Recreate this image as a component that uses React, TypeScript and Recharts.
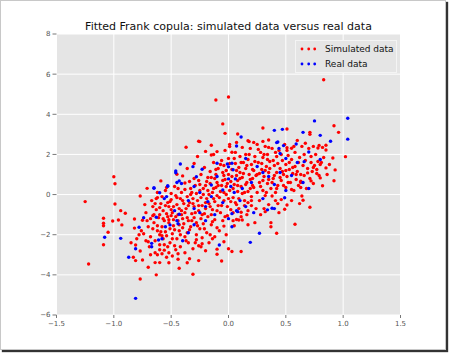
import React from "react";
import { ScatterChart, Scatter, XAxis, YAxis, CartesianGrid } from "recharts";

// Frank copula fit — simulated vs real points
const TITLE = "Fitted Frank copula: simulated data versus real data";
const X_TICKS = [-1.5, -1.0, -0.5, 0.0, 0.5, 1.0, 1.5];
const Y_TICKS = [-6, -4, -2, 0, 2, 4, 6, 8];

const SIMULATED: [number, number][] = [
  // outliers / tails
  [-1.25, -0.35], [-0.99, -0.47], [-0.94, -0.8], [-1.09, -1.18], [-1.09, -1.43], [-1.09, -1.55], [-1.01, -1.32],
  [-1.05, -1.88], [-1.09, -2.5], [-1.22, -3.46], [-0.77, -4.21], [-0.63, -4.0], [-0.83, -3.12], [-0.81, -3.29],
  [-0.75, -3.26], [-0.7, -3.62], [-0.64, -3.39], [-0.6, -3.39], [-0.54, -3.12], [-0.43, -3.67], [-0.44, -3.22],
  [-0.49, -3.06], [-0.77, -2.81], [-0.81, -2.51], [-0.85, -2.4], [-0.93, -1.51], [-0.96, -1.27], [-0.9, -0.93],
  [-0.82, -1.22], [-0.75, -1.28], [-0.82, -1.67], [-0.6, -2.5], [-0.56, -2.77],
  [-1.0, 0.89], [-0.99, 0.54], [-0.37, 2.36], [-0.45, 1.01], [-0.4, 0.93], [-0.38, 0.58], [-0.59, 0.68],
  [-0.54, 0.35], [-0.71, 0.31], [-0.77, -0.07], [-0.62, -0.15],
  [0.0, 4.86], [-0.11, 4.71], [-0.05, 3.52], [-0.03, 3.05], [-0.25, 2.64], [0.08, 3.02], [0.3, 3.32],
  [0.51, 3.27], [-0.15, 2.46], [0.18, 2.64], [0.35, 2.72],
  [0.83, 5.72], [0.71, 3.1], [0.71, 3.0], [0.92, 3.43], [0.96, 3.1], [0.67, 2.56], [0.85, 2.46], [0.78, 2.32],
  [0.85, 2.22], [0.66, 2.0], [0.91, 1.82], [1.02, 1.89], [0.72, 1.6], [0.75, 1.45], [0.78, 1.65], [0.8, 1.5],
  [0.74, 1.35], [0.85, 1.33], [0.93, 1.23], [0.69, 1.08], [0.77, 1.05], [0.8, 0.83], [0.63, 0.66], [0.72, 0.68],
  [0.92, 0.69], [0.82, 0.44], [0.63, 0.35], [0.64, -0.07], [0.65, -0.28], [0.71, -0.63],
  [-0.26, -3.29], [-0.06, -3.31], [-0.1, -2.97], [-0.1, -2.72], [-0.2, -2.8], [-0.24, -2.6], [-0.23, -2.45],
  [-0.29, -2.4], [0.03, -2.84], [0.11, -2.84], [0.0, -2.7], [-0.04, -2.35], [-0.17, -2.4], [-0.28, -2.0],
  [-0.16, -2.0], [-0.12, -2.1], [-0.1, -1.65], [-0.04, -1.57], [0.42, -1.93], [0.58, -1.48], [0.37, -1.4],
  [0.37, -1.6], [0.23, -1.4], [0.17, -1.5], [0.12, -1.27], [0.09, -1.27], [0.07, -1.24], [0.04, -1.3],
  [0.49, -0.73], [0.51, -0.52], [0.31, -0.7], [0.32, -0.85], [0.55, -0.3], [0.38, -0.07], [0.41, -0.3],
  [0.43, -0.45], [0.14, -0.55], [0.17, -0.8], [0.11, -0.88], [0.2, -0.3], [-0.31, -3.97],
  [0.17, 2.68], [0.07, 2.6], [0.25, 2.5], [0.3, 2.65], [0.35, 2.35], [0.55, 2.31], [0.51, 2.33], [0.74, 2.4],
  [0.79, 2.45], [0.82, 2.35], [-0.2, 2.15], [-0.1, 2.14], [-0.15, 1.97], [0.03, 2.11], [0.01, 2.39], [-0.26, 2.66],
  [-0.72, -2.3], [-0.78, -2.0], [-0.8, -2.2], [-0.76, -1.8], [-0.68, -3.0], [-0.62, -3.0], [-0.58, -2.95],
  [-0.47, -2.55], [-0.52, -3.4], [-0.38, -2.9], [-0.36, -3.4],
  // dense core
  [-0.7, -1.6], [-0.72, -0.9], [-0.68, -2.1], [-0.71, -1.3], [-0.69, -2.6], [-0.73, -0.5], [-0.66, -1.05],
  [-0.74, -1.95], [-0.67, -0.3],
  [-0.65, -1.4], [-0.63, -0.75], [-0.64, -2.3], [-0.62, -1.8], [-0.66, -0.6], [-0.61, -1.15], [-0.64, -2.9],
  [-0.63, -0.2], [-0.62, 0.1],
  [-0.6, -1.0], [-0.58, -1.6], [-0.59, -0.45], [-0.57, -2.2], [-0.6, -2.75], [-0.58, -0.1], [-0.56, -1.3],
  [-0.59, -1.85], [-0.57, -0.8], [-0.55, 0.2], [-0.56, -2.5],
  [-0.53, -1.1], [-0.52, -0.6], [-0.51, -1.7], [-0.54, -2.05], [-0.5, -0.25], [-0.52, -1.4], [-0.49, -0.9],
  [-0.51, -2.4], [-0.5, 0.05], [-0.53, -0.4], [-0.48, -1.25], [-0.49, -1.95], [-0.52, -2.9], [-0.47, 0.4],
  [-0.5, -0.75], [-0.48, -1.55], [-0.46, -0.05],
  [-0.45, -0.5], [-0.44, -1.0], [-0.43, -1.5], [-0.45, -2.2], [-0.42, -0.2], [-0.44, 0.3], [-0.41, -0.8],
  [-0.43, -1.8], [-0.42, -2.6], [-0.4, -1.2], [-0.41, 0.1], [-0.39, -0.45], [-0.4, -1.65], [-0.44, -2.95],
  [-0.38, -2.1],
  [-0.37, -0.7], [-0.36, -0.1], [-0.35, -1.3], [-0.34, -0.4], [-0.36, -1.9], [-0.33, 0.3], [-0.35, -2.4],
  [-0.32, -0.95], [-0.34, 0.65], [-0.33, -1.6], [-0.31, -0.2], [-0.36, 1.3], [-0.3, -1.15], [-0.32, 0.1],
  [-0.31, -2.7], [-0.3, -0.6], [-0.29, 0.45], [-0.34, -3.2], [-0.28, -1.4], [-0.3, 1.55],
  [-0.27, -0.3], [-0.26, -0.8], [-0.25, 0.2], [-0.24, -1.2], [-0.26, 0.7], [-0.23, -0.55], [-0.25, -1.7],
  [-0.22, 0.0], [-0.24, 1.0], [-0.21, -0.95], [-0.23, -2.15], [-0.2, 0.45], [-0.22, -1.45], [-0.21, 1.35],
  [-0.19, -0.2], [-0.2, -0.7], [-0.18, 0.85], [-0.27, 1.9], [-0.19, -1.9], [-0.18, 0.2], [-0.26, -2.55],
  [-0.17, -0.45], [-0.16, 0.55], [-0.15, -1.0], [-0.14, 0.1], [-0.16, 1.15], [-0.13, -0.2], [-0.15, -1.5],
  [-0.12, 0.8], [-0.14, -0.75], [-0.11, 0.35], [-0.13, 1.6], [-0.12, -1.25], [-0.1, -0.05], [-0.11, 1.0],
  [-0.09, -0.55], [-0.13, 2.0], [-0.1, 0.6], [-0.08, -1.8], [-0.09, 1.3], [-0.14, -2.2], [-0.07, 0.15],
  [-0.07, -0.9], [-0.06, 0.45], [-0.05, 1.1], [-0.04, -0.3], [-0.06, 1.7], [-0.03, 0.75], [-0.05, -1.3],
  [-0.02, 0.0], [-0.04, 1.45], [-0.01, -0.6], [-0.03, 2.2], [-0.02, 0.4], [0.0, 1.0], [-0.01, -1.05],
  [0.01, 0.2], [-0.04, 0.95], [0.0, 1.8], [0.02, -0.35], [0.01, 2.5], [-0.02, -2.0], [0.02, 0.65],
  [0.03, 1.25], [0.04, -0.15], [0.05, 0.5], [0.06, 1.55], [0.04, -0.9], [0.07, 0.95], [0.06, 2.1], [0.08, 0.15],
  [0.07, -0.5], [0.09, 1.35], [0.08, 0.7], [0.1, 1.9], [0.09, -0.2], [0.11, 0.4], [0.1, 1.1], [0.12, 2.35],
  [0.11, -1.1], [0.12, 0.85], [0.13, 1.6], [0.05, -1.55],
  [0.14, 0.1], [0.15, 1.3], [0.16, 0.6], [0.15, 2.0], [0.17, -0.4], [0.18, 1.0], [0.17, 1.75], [0.19, 0.3],
  [0.2, 1.5], [0.19, 2.3], [0.21, 0.8], [0.2, -0.1], [0.22, 1.2], [0.23, 1.9], [0.21, 0.45], [0.24, -0.7],
  [0.22, 2.6], [0.16, -1.0], [0.25, 1.0],
  [0.26, 1.6], [0.27, 0.6], [0.28, 2.1], [0.27, -0.3], [0.29, 1.25], [0.3, 0.2], [0.3, 1.85], [0.31, 0.9],
  [0.32, 2.4], [0.33, 1.4], [0.32, -0.05], [0.34, 0.55], [0.35, 1.1], [0.34, 2.0], [0.36, 1.65], [0.35, -0.5],
  [0.37, 0.3], [0.28, -1.0], [0.38, 2.3],
  [0.39, 0.8], [0.4, 1.45], [0.41, 0.1], [0.42, 1.9], [0.42, 1.1], [0.43, 0.45], [0.44, 2.2], [0.45, 1.3],
  [0.46, 0.7], [0.47, 1.7], [0.46, -0.25], [0.48, 1.0], [0.49, 2.5], [0.5, 0.35], [0.5, 1.5], [0.51, 0.9],
  [0.52, 1.95], [0.44, -0.9], [0.53, 1.25],
  [0.54, 0.6], [0.55, 1.75], [0.56, 1.05], [0.57, 0.2], [0.58, 2.1], [0.58, 1.4], [0.59, 0.75], [0.6, 2.7],
  [0.6, 1.15], [0.61, 0.45], [0.62, 1.85], [0.63, 1.0], [0.64, 2.4], [0.62, -0.45], [0.65, 1.45],
  [0.66, 0.95], [0.67, 1.7], [0.68, 0.3], [0.69, 1.3], [0.7, 2.3], [0.71, 0.8], [0.72, 1.9], [0.73, 1.15],
  [0.74, 0.55], [0.76, 2.0], [0.77, 1.25], [0.79, 0.95], [0.81, 1.6], [0.83, 1.85], [0.86, 1.0], [0.88, 1.5],
  // second pass over the core
  [-0.62, -1.55], [-0.6, -0.65], [-0.58, -2.05], [-0.57, -1.2], [-0.55, -0.55], [-0.55, -1.85], [-0.54, -0.95],
  [-0.53, -2.6], [-0.52, -1.25], [-0.51, -0.35], [-0.5, -1.05], [-0.49, -2.2], [-0.48, -0.6], [-0.47, -1.75],
  [-0.46, -1.1], [-0.46, -2.75], [-0.45, -0.15], [-0.44, -1.3], [-0.43, -0.7], [-0.42, -2.0], [-0.41, -1.0],
  [-0.4, -0.3], [-0.39, -1.45], [-0.38, 0.25], [-0.38, -0.9], [-0.37, -2.3], [-0.36, -1.15], [-0.35, -0.55],
  [-0.34, -1.75], [-0.33, 0.0], [-0.32, -1.3], [-0.31, -0.45], [-0.3, 0.8], [-0.29, -0.9], [-0.28, -2.25],
  [-0.28, 0.05], [-0.27, -1.55], [-0.26, -0.55], [-0.25, 0.5], [-0.24, -0.15], [-0.23, -1.0], [-0.22, 0.3],
  [-0.21, -1.7], [-0.2, -0.4], [-0.19, 0.65], [-0.18, -1.1], [-0.17, 0.0], [-0.16, -0.6], [-0.15, 0.85],
  [-0.14, -1.35], [-0.13, 0.3], [-0.12, -0.35], [-0.11, 1.25], [-0.1, -0.8], [-0.09, 0.45], [-0.08, -0.15],
  [-0.07, 1.5], [-0.06, -0.55], [-0.05, 0.7], [-0.04, 0.1], [-0.03, -1.1], [-0.02, 1.2], [-0.01, 0.55],
  [0.0, -0.2], [0.01, 1.55], [0.02, -0.75], [0.03, 0.9], [0.04, 0.3], [0.05, 1.8], [0.06, -0.4], [0.07, 1.2],
  [0.08, 0.45], [0.09, -0.7], [0.1, 0.8], [0.11, 1.6], [0.12, 0.05], [0.13, 1.05], [0.14, -0.3], [0.15, 0.5],
  [0.16, 1.45], [0.17, 0.15], [0.18, 2.0], [0.19, 0.75], [0.2, -0.55], [0.21, 1.25], [0.22, 0.35], [0.23, 1.65],
  [0.24, 0.95], [0.25, 0.1], [0.26, 2.25], [0.27, 1.05], [0.28, 0.4], [0.29, 1.55], [0.3, 0.7], [0.31, 2.0],
  [0.32, 1.2], [0.33, 0.1], [0.34, 1.75], [0.35, 0.75], [0.36, 1.3], [0.38, 0.6], [0.39, 1.7], [0.4, 0.95],
  [0.41, 2.1], [0.42, 0.3], [0.43, 1.55], [0.45, 0.85], [0.46, 2.0], [0.47, 1.15], [0.48, 0.45], [0.5, 1.2],
  [0.51, 2.2], [0.52, 0.6], [0.53, 1.6], [0.55, 0.25], [0.56, 1.35], [0.57, 2.4], [0.59, 1.0], [0.61, 1.6],
  [0.63, 0.6], [-0.66, -1.7], [-0.68, -1.2], [-0.7, -2.35], [-0.64, -0.45], [-0.6, -2.0], [-0.65, -1.0],
];

const REAL: [number, number][] = [
  [-0.42, 1.52], [-0.46, 1.18], [-0.43, 0.68], [-0.53, 0.41], [-0.65, 0.34], [-0.6, 0.09], [-0.56, -0.2],
  [0.11, 2.87], [0.4, 3.2], [0.47, 3.25], [0.43, 2.62], [0.59, 2.52], [1.04, 3.8], [0.75, 3.67], [0.65, 3.1],
  [0.8, 2.95], [0.89, 2.66], [1.04, 2.76], [0.7, 2.12], [0.66, 1.64],
  [-1.08, -2.13], [-0.94, -2.18], [-0.81, -5.17], [-0.87, -3.12], [-0.81, -2.7], [-0.78, -1.63], [-0.67, -2.6],
  [0.19, -2.38], [-0.08, -2.51], [0.27, -1.93], [0.03, -1.6], [0.38, -0.68], [0.34, -0.76], [0.4, -0.7],
  [0.49, -0.16], [0.08, -0.85], [0.07, -0.8], [0.03, -0.95],
  [0.07, 2.42], [-0.31, 1.39], [-0.1, 1.56], [-0.01, 1.52], [0.0, 1.38], [0.04, 1.24], [-0.23, 1.26],
  [-0.46, 1.09], [-0.28, 0.89], [0.0, 0.78], [0.06, 0.78], [-0.65, 0.31], [-0.53, 0.44], [-0.45, 0.6],
  [-0.41, 0.55], [-0.15, 0.48], [-0.05, 0.23], [-0.74, -1.15], [-0.63, -1.13], [-0.54, -0.1], [-0.47, -0.8],
  [-0.43, -0.98], [0.42, 2.59], [0.48, 2.44], [0.44, 2.3], [0.45, 2.05], [0.03, 1.56],
  [-0.35, -0.3], [-0.2, -0.6], [-0.3, -1.5], [-0.12, -1.0], [-0.25, 0.1], [0.12, 0.3], [0.2, 0.6], [0.25, 1.4],
  [0.3, -0.2], [0.15, 1.8], [0.35, 0.9], [0.5, 0.2], [0.55, 0.95], [0.6, 1.6], [0.5, 1.8], [-0.05, -0.4],
  [0.1, -0.3], [-0.55, -1.6], [-0.4, -2.3], [-0.2, -1.3], [0.0, -1.2], [-0.3, 0.4], [-0.1, 0.9], [0.22, -0.9],
  [0.4, 0.5], [-0.58, -2.2], [-0.35, -1.9], [-0.15, -0.1], [0.3, 1.1], [0.65, 0.6], [-0.45, -1.3], [0.05, 0.1],
  [0.15, -0.6], [-0.25, -0.9], [0.45, 1.1], [0.8, 1.75], [0.7, 0.3], [-0.51, -1.51], [-0.67, -2.43],
  [-0.61, -2.26], [-0.44, -1.45], [-0.3, -0.7], [-0.18, -0.35], [0.02, 0.4],
];

const RED = "#ff0000";
const BLUE = "#0000ff";
const FONT = "'DejaVu Sans', sans-serif";

const toRows = (pts: [number, number][]) => pts.map(([x, y]) => ({ x, y }));
const fmtX = (v: number) => v.toFixed(1).replace("-", "\u2212");
const fmtY = (v: number) => String(v).replace("-", "\u2212");

function Dot(color: string) {
  return (props: any) => <circle cx={props.cx} cy={props.cy} r={1.7} fill={color} />;
}

function LegendBox() {
  const row = (color: string, label: string, top: number) => (
    <div style={{ position: "absolute", left: 0, top, height: 14, width: "100%" }}>
      <svg width={26} height={14} style={{ position: "absolute", left: 0, top: 0 }}>
        {[6, 12.7, 18.7].map((cx) => (
          <circle key={cx} cx={cx} cy={7} r={1.4} fill={color} />
        ))}
      </svg>
      <span style={{ position: "absolute", left: 29, top: 0, lineHeight: "14px", whiteSpace: "nowrap" }}>{label}</span>
    </div>
  );
  return (
    <div
      style={{
        position: "absolute",
        left: 295,
        top: 40,
        width: 100,
        height: 31,
        background: "#e5e5e5",
        border: "1px solid #f4f4f4",
        fontFamily: FONT,
        fontSize: 9,
        color: "#111",
      }}
    >
      {row(RED, "Simulated data", 0.5)}
      {row(BLUE, "Real data", 16)}
    </div>
  );
}

export default function App() {
  return (
    <div style={{ position: "absolute", left: 0, top: 0, width: 449, height: 354, background: "#fff" }}>
      {/* marco del screenshot con sombra */}
      <div
        style={{
          position: "absolute",
          left: 0,
          top: 0,
          width: 444,
          height: 348,
          border: "1px solid #c8c8c8",
          boxShadow: "2px 2px 1px #333",
        }}
      />
      <div
        style={{
          position: "absolute",
          left: 0,
          width: 457,
          top: 20,
          textAlign: "center",
          fontFamily: FONT,
          fontSize: 11,
          lineHeight: "13px",
          color: "#111",
        }}
      >
        {TITLE}
      </div>
      <div style={{ position: "absolute", left: 0, top: 0 }}>
        <ScatterChart width={449} height={354} margin={{ top: 34, right: 48.5, bottom: 9, left: 6.5 }}>
          <CartesianGrid fill="#e5e5e5" stroke="#ffffff" strokeWidth={1} />
          <XAxis
            type="number"
            dataKey="x"
            domain={[-1.5, 1.5]}
            ticks={X_TICKS}
            tickFormatter={fmtX}
            axisLine={false}
            tickSize={3}
            tickMargin={3}
            height={30}
            tick={{ fontSize: 7, fill: "#555", fontFamily: FONT }}
            tickLine={{ stroke: "#777" }}
            allowDataOverflow
          />
          <YAxis
            type="number"
            dataKey="y"
            domain={[-6, 8]}
            ticks={Y_TICKS}
            tickFormatter={fmtY}
            axisLine={false}
            tickSize={4}
            tickMargin={2}
            width={50}
            tick={{ fontSize: 7, fill: "#555", fontFamily: FONT }}
            tickLine={{ stroke: "#777" }}
            allowDataOverflow
          />
          <Scatter name="Simulated data" data={toRows(SIMULATED)} shape={Dot(RED)} isAnimationActive={false} />
          <Scatter name="Real data" data={toRows(REAL)} shape={Dot(BLUE)} isAnimationActive={false} />
        </ScatterChart>
      </div>
      <LegendBox />
    </div>
  );
}
